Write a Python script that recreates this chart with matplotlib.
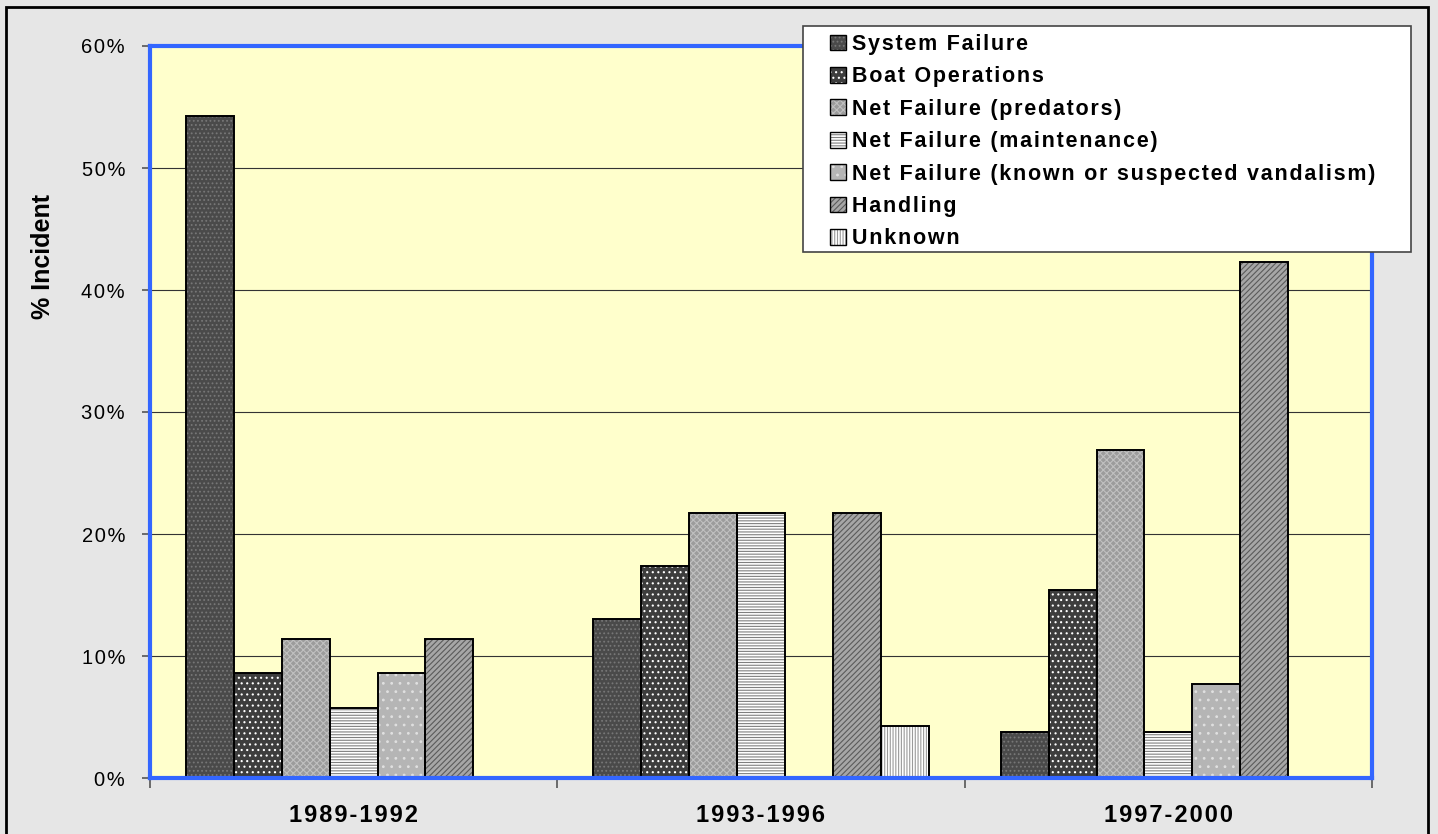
import numpy as np
import matplotlib
matplotlib.use("Agg")
import matplotlib.pyplot as plt
from matplotlib.patches import Patch, Rectangle
from matplotlib.legend_handler import HandlerTuple
from matplotlib.ticker import FuncFormatter

plt.rcParams['font.family'] = ['Liberation Sans', 'DejaVu Sans']
plt.rcParams['hatch.linewidth'] = 0.8

periods = ["1989-1992", "1993-1996", "1997-2000"]
series = ["System Failure", "Boat Operations", "Net Failure (predators)",
          "Net Failure (maintenance)", "Net Failure (known or suspected vandalism)",
          "Handling", "Unknown"]

system_failure = [54.3, 13.0, 3.8]
boat_operations = [8.6, 17.4, 15.4]
net_predators = [11.4, 21.7, 26.9]
net_maintenance = [5.7, 21.7, 3.8]
net_vandalism = [8.6, 0.0, 7.7]
handling = [11.4, 21.7, 42.3]
unknown = [0.0, 4.3, 0.0]

values = [system_failure, boat_operations, net_predators, net_maintenance,
          net_vandalism, handling, unknown]

# face colour, hatch colour, hatch pattern
styles = [
    ('#4a4a4a', '#777777', '....'),
    ('#3d3d3d', 'white', '...'),
    ('#9c9c9c', '#c0c0c0', 'xxxxx'),
    ('white', '#808080', '------'),
    ('#b5b5b5', '#e0e0e0', '..'),
    ('#a6a6a6', '#5a5a5a', '//////'),
    ('white', '#9a9a9a', '||||||'),
]


def sp(s):
    # poor man's letter spacing
    return '\u200a'.join(s)


fig = plt.figure(figsize=(14.38, 8.34), dpi=100, facecolor='#e6e6e6')
ax = fig.add_axes([150 / 1438, 56 / 834, 1222 / 1438, 732 / 834])
ax.set_facecolor('#ffffcc')

x = np.arange(len(periods))
w = 0.1175
handles = []
for i, (vals, (fc, hc, hp)) in enumerate(zip(values, styles)):
    pos = x + (i - 3) * w
    v = np.array(vals) / 100
    ax.bar(pos, v, w, color=fc, edgecolor=hc, hatch=hp, linewidth=0, zorder=2)
    ax.bar(pos, v, w, fill=False, edgecolor='black', linewidth=1.4, zorder=3)
    handles.append((Patch(facecolor=fc, edgecolor=hc, hatch=hp, linewidth=0),
                    Patch(fill=False, edgecolor='black', linewidth=1.0)))

ax.set_xlim(-0.5, 2.5)
ax.set_ylim(0, 0.6)
ax.set_yticks(np.arange(0, 0.61, 0.1))
ax.yaxis.set_major_formatter(FuncFormatter(lambda v, p: sp("%d%%" % round(v * 100))))
ax.yaxis.grid(True, color='#333333', linewidth=0.8)
ax.set_axisbelow(True)

ax.set_xticks(x)
ax.set_xticklabels([sp(p) for p in periods], fontsize=17, fontweight='bold')
ax.set_xticks([-0.5, 0.5, 1.5, 2.5], minor=True)
ax.tick_params(axis='x', which='major', length=0, pad=19)
ax.tick_params(axis='x', which='minor', length=7, width=1.2, color='#555555')
ax.tick_params(axis='y', length=6, width=1.2, color='#555555', labelsize=14.5, pad=12)

for s in ax.spines.values():
    s.set_color('#3366ff')
    s.set_linewidth(3)
    s.set_zorder(4)

ax.set_ylabel("% Incident", fontsize=18, fontweight='bold')
ax.yaxis.set_label_coords(-0.078, 0.712)

# outer border
fig.add_artist(Rectangle((6 / 1438, -0.01), 1422 / 1438, 1 - 7 / 834 + 0.01,
                         transform=fig.transFigure, fill=False,
                         edgecolor='black', linewidth=2, zorder=1))

# legend box
fig.add_artist(Rectangle((803 / 1438, 1 - 252 / 834), 608 / 1438, 226 / 834,
                         transform=fig.transFigure, facecolor='white',
                         edgecolor='#444444', linewidth=1.2, zorder=4))
fig.legend(handles, [sp(s) for s in series], loc='upper left',
           bbox_to_anchor=(830 / 1438, 1 - 34 / 834), frameon=False,
           borderpad=0, borderaxespad=0, labelspacing=0.53,
           handlelength=0.75, handleheight=0.75, handletextpad=0.25,
           prop={'weight': 'bold', 'size': 15.5},
           handler_map={tuple: HandlerTuple(ndivide=1, pad=0)})

fig.savefig("out.png", dpi=100, facecolor=fig.get_facecolor())
